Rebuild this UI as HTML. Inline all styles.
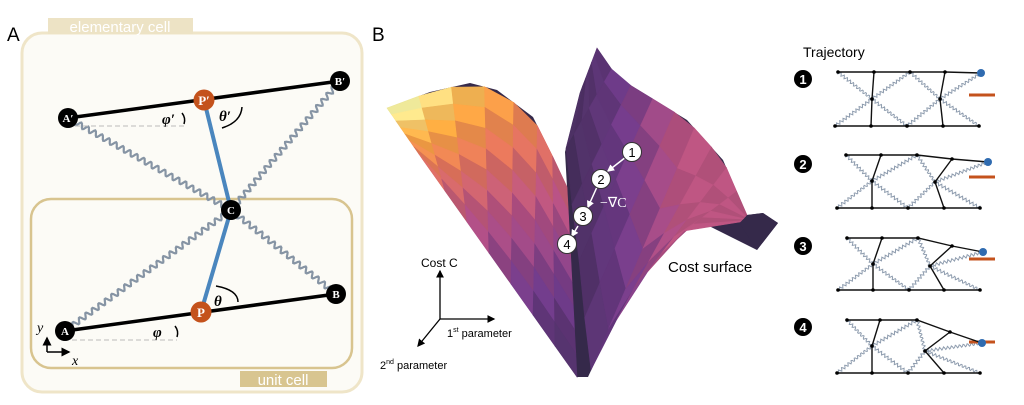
<!DOCTYPE html>
<html><head><meta charset="utf-8"><style>
html,body{margin:0;padding:0;background:#fff;width:1024px;height:405px;overflow:hidden}
svg{display:block}
text{font-family:"Liberation Sans",sans-serif}
.serif{font-family:"Liberation Serif",serif;font-style:italic;font-weight:bold}
</style></head><body>
<svg id="s" width="1024" height="405" viewBox="0 0 1024 405" xmlns="http://www.w3.org/2000/svg">
<defs>
<marker id="ar" markerWidth="6" markerHeight="6" refX="5" refY="3" orient="auto"><path d="M0,0L6,3L0,6z" fill="#000"/></marker>
<marker id="aw" markerWidth="5" markerHeight="5" refX="4" refY="2.5" orient="auto"><path d="M0,0L5,2.5L0,5z" fill="#fff"/></marker>
</defs>
<!-- Panel A -->
<text x="7" y="41" font-size="19">A</text>
<rect x="22" y="33" width="340" height="359" rx="20" fill="#fcfbf6" stroke="#efe5c8" stroke-width="3"/>
<rect x="48" y="18" width="145" height="16" fill="#ede3c5"/>
<text x="120" y="32" font-size="15" fill="#fff" text-anchor="middle">elementary cell</text>
<rect x="31" y="199" width="321" height="169" rx="20" fill="none" stroke="#d8c48f" stroke-width="2.5"/>
<rect x="240" y="371" width="87" height="16" fill="#d8c590"/>
<text x="283" y="385" font-size="15" fill="#fff" text-anchor="middle">unit cell</text>
<g id="springsA" fill="none" stroke="#8694a4" stroke-width="2.2"></g>
<line x1="75" y1="126" x2="185" y2="126" stroke="#bbb" stroke-dasharray="5,3"/>
<line x1="72" y1="340" x2="177" y2="340" stroke="#bbb" stroke-dasharray="5,3"/>
<line x1="68" y1="118" x2="340" y2="81" stroke="#000" stroke-width="3.5"/>
<line x1="65" y1="331" x2="336" y2="294" stroke="#000" stroke-width="3.5"/>
<polyline points="204,100 231,210 201,312" fill="none" stroke="#4a86be" stroke-width="4"/>
<path d="M182,113 Q186,118 184,124" fill="none" stroke="#000" stroke-width="1.5"/>
<path d="M242,107 Q241,122 222,128" fill="none" stroke="#000" stroke-width="1.5"/>
<path d="M216,286 Q238,290 238,302" fill="none" stroke="#000" stroke-width="1.5"/>
<path d="M175,326 Q179,331 177,337" fill="none" stroke="#000" stroke-width="1.5"/>
<text class="serif" x="162" y="124" font-size="15">φ′</text>
<text class="serif" x="219" y="121" font-size="15">θ′</text>
<text class="serif" x="214" y="306" font-size="15">θ</text>
<text class="serif" x="153" y="337" font-size="15">φ</text>
<g font-weight="bold" font-size="11" fill="#fff" text-anchor="middle">
<circle cx="68" cy="118" r="10" fill="#000"/><text x="68" y="122" style="font-family:'Liberation Serif',serif">A′</text>
<circle cx="340" cy="81" r="10" fill="#000"/><text x="340" y="85" style="font-family:'Liberation Serif',serif">B′</text>
<circle cx="204" cy="100" r="10.5" fill="#c4521c"/><text x="204" y="105" style="font-family:'Liberation Serif',serif" font-size="13">P′</text>
<circle cx="231" cy="210" r="10" fill="#000"/><text x="231" y="214" style="font-family:'Liberation Serif',serif">C</text>
<circle cx="336" cy="294" r="10" fill="#000"/><text x="336" y="298" style="font-family:'Liberation Serif',serif">B</text>
<circle cx="201" cy="312" r="10.5" fill="#c4521c"/><text x="201" y="317" style="font-family:'Liberation Serif',serif" font-size="13">P</text>
<circle cx="65" cy="331" r="10" fill="#000"/><text x="65" y="335" style="font-family:'Liberation Serif',serif">A</text>
</g>
<line x1="47" y1="352" x2="47" y2="338" stroke="#000" stroke-width="1.5" marker-end="url(#ar)"/>
<line x1="47" y1="352" x2="69" y2="352" stroke="#000" stroke-width="1.5" marker-end="url(#ar)"/>
<text x="37" y="332" font-size="14" font-style="italic" style="font-family:'Liberation Serif',serif">y</text>
<text x="72" y="365" font-size="14" font-style="italic" style="font-family:'Liberation Serif',serif">x</text>
<!-- Panel B -->
<text x="372" y="41" font-size="19">B</text>
<polygon points="387,108 430,92 470,83 497,90 533,117 552,155 567,187 565,152 580,93 597,48 617,77 687,120 723,160 747,215 763,213 778,223 757,250 703,223 670,237 610,330 588,377 577,377 423,160" fill="#35294a"/>
<g id="surf"></g>
<polygon points="747,215 763,213 778,223 757,250 740,224" fill="#35294a"/>
<g stroke="#fff" stroke-width="1.5" fill="none">
<line x1="626" y1="157" x2="608" y2="171" marker-end="url(#aw)"/>
<line x1="597" y1="187" x2="588" y2="207" marker-end="url(#aw)"/>
<line x1="578" y1="226" x2="572" y2="236" marker-end="url(#aw)"/>
</g>
<g font-size="13" text-anchor="middle">
<circle cx="632" cy="152" r="9.5" fill="#fff" stroke="#333"/><text x="632" y="157">1</text>
<circle cx="601" cy="179" r="9.5" fill="#fff" stroke="#333"/><text x="601" y="184">2</text>
<circle cx="583" cy="216" r="9.5" fill="#fff" stroke="#333"/><text x="583" y="221">3</text>
<circle cx="567" cy="244" r="9.5" fill="#fff" stroke="#333"/><text x="567" y="249">4</text>
</g>
<text x="600" y="207" font-size="14" fill="#fff" style="font-family:'Liberation Serif',serif">−∇C</text>
<text x="668" y="272" font-size="15">Cost surface</text>
<line x1="440" y1="319" x2="440" y2="271" stroke="#000" stroke-width="1.3" marker-end="url(#ar)"/>
<line x1="440" y1="319" x2="494" y2="319" stroke="#000" stroke-width="1.3" marker-end="url(#ar)"/>
<line x1="440" y1="319" x2="418" y2="346" stroke="#000" stroke-width="1.3" marker-end="url(#ar)"/>
<text x="421" y="267" font-size="12">Cost C</text>
<text x="447" y="337" font-size="11">1<tspan font-size="7" dy="-5">st</tspan><tspan dy="5"> parameter</tspan></text>
<text x="380" y="369" font-size="11">2<tspan font-size="7" dy="-5">nd</tspan><tspan dy="5"> parameter</tspan></text>
<!-- Trajectory -->
<text x="803" y="57" font-size="14">Trajectory</text>
<g id="traj"></g>
</svg>
<script>
const NS="http://www.w3.org/2000/svg";
function wave(x1,y1,x2,y2,amp,wl){const dx=x2-x1,dy=y2-y1,L=Math.hypot(dx,dy),ux=dx/L,uy=dy/L,nx=-uy,ny=ux;let d="";const n=Math.ceil(L/1);for(let i=0;i<=n;i++){const t=i/n*L,o=amp*Math.sin(2*Math.PI*t/wl);d+=(i?"L":"M")+(x1+ux*t+nx*o).toFixed(1)+","+(y1+uy*t+ny*o).toFixed(1);}return d;}
function el(tag,attrs,parent){const e=document.createElementNS(NS,tag);for(const k in attrs)e.setAttribute(k,attrs[k]);parent.appendChild(e);return e;}
const sA=document.getElementById("springsA");
[[68,118,231,210],[340,81,231,210],[231,210,65,331],[231,210,336,294]].forEach(s=>el("path",{d:wave(...s,2.6,8)},sA));
const stops=[[0,[249,243,160]],[0.18,[248,168,64]],[0.34,[226,116,90]],[0.52,[178,79,130]],[0.72,[110,58,136]],[1,[53,41,74]]];
function cmap(t,k){t=Math.max(0,Math.min(1,t));let i=0;while(i<stops.length-2&&t>stops[i+1][0])i++;const a=stops[i],b=stops[i+1],f=(t-a[0])/(b[0]-a[0]);return "rgb("+a[1].map((v,j)=>Math.round(Math.min(255,(v+(b[1][j]-v)*f)*k))).join(",")+")";}
function resample(pts,n){const seg=[];let tot=0;for(let i=1;i<pts.length;i++){const l=Math.hypot(pts[i][0]-pts[i-1][0],pts[i][1]-pts[i-1][1]);seg.push(l);tot+=l;}const out=[];for(let k=0;k<=n;k++){let d=tot*k/n,i=0;while(i<seg.length-1&&d>seg[i]){d-=seg[i];i++;}const f=seg[i]?Math.min(1,d/seg[i]):0;out.push([pts[i][0]+(pts[i+1][0]-pts[i][0])*f,pts[i][1]+(pts[i+1][1]-pts[i][1])*f]);}return out;}
const sg=document.getElementById("surf");
function patch(top,bot,nc,nr,colf){const T=resample(top,nc),B=resample(bot,nc);
 const P=(i,j)=>[T[i][0]+(B[i][0]-T[i][0])*j/nr,T[i][1]+(B[i][1]-T[i][1])*j/nr];
 for(let i=0;i<nc;i++)for(let j=0;j<nr;j++){const a=P(i,j),b=P(i+1,j),c=P(i+1,j+1),d=P(i,j+1);const cx=(a[0]+b[0]+c[0]+d[0])/4,cy=(a[1]+b[1]+c[1]+d[1])/4;const k=((i+j)%2)?1.04:0.96;const col=colf(cx,cy,i,j,k,nc,nr);
 el("polygon",{points:[a,b,c,d].map(p=>p[0].toFixed(1)+","+p[1].toFixed(1)).join(" "),fill:col,stroke:col,"stroke-width":0.6},sg);}}
patch([[387,108],[430,92],[470,83],[497,90],[533,117],[552,155],[567,187]],[[423,160],[577,377]],7,8,(x,y,i,j,k,nc,nr)=>cmap((i+0.5)/nc*0.55+(j+0.5)/nr*0.45-0.08,k));
patch([[597,48],[617,77],[687,120],[723,160],[747,215]],[[580,93],[565,152],[578,250],[590,372],[610,330],[670,237],[703,223],[740,222]],9,6,(x,y,i,j,k)=>cmap(0.5+0.42*Math.max(0,Math.min(1,(680-x)/110)),k));
const P=[
{n:1,y:79,top:[[838,72],[874,72],[910,72],[945,72],[981,73]],mid:[[872,99],[940,99]],bot:[[835,126],[871,126],[907,126],[943,126],[979,126]],o:95},
{n:2,y:164,top:[[846,155],[881,155],[917,155],[952,159],[988,162]],mid:[[872,181],[935,182]],bot:[[837,208],[872,208],[908,208],[944,208],[980,208]],o:177},
{n:3,y:246,top:[[847,238],[882,238],[918,238],[952,246],[983,252]],mid:[[873,264],[930,266]],bot:[[838,290],[873,290],[909,290],[944,290],[980,290]],o:259},
{n:4,y:327,top:[[847,320],[880,320],[917,320],[950,332],[982,343]],mid:[[872,346],[925,351]],bot:[[837,373],[872,373],[908,373],[944,373],[980,373]],o:342}];
const tg=document.getElementById("traj");
P.forEach(p=>{
 const T=p.top,M=p.mid,B=p.bot;
 const sp=[[T[0],M[0]],[M[0],B[2]],[B[0],M[0]],[M[0],T[2]],[T[2],M[1]],[M[1],B[4]],[B[2],M[1]],[M[1],T[4]]];
 sp.forEach(s=>el("path",{d:wave(s[0][0],s[0][1],s[1][0],s[1][1],1.5,4),fill:"none",stroke:"#8e9cae","stroke-width":1},tg));
 el("line",{x1:969,y1:p.o,x2:995,y2:p.o,stroke:"#c4521c","stroke-width":3},tg);
 el("polyline",{points:T.map(a=>a.join(",")).join(" "),fill:"none",stroke:"#111","stroke-width":1.4},tg);
 el("polyline",{points:B.map(a=>a.join(",")).join(" "),fill:"none",stroke:"#111","stroke-width":1.4},tg);
 el("polyline",{points:[T[1],M[0],B[1]].map(a=>a.join(",")).join(" "),fill:"none",stroke:"#111","stroke-width":1.4},tg);
 el("polyline",{points:[T[3],M[1],B[3]].map(a=>a.join(",")).join(" "),fill:"none",stroke:"#111","stroke-width":1.4},tg);
 [...T.slice(0,4),...M,...B].forEach(a=>el("circle",{cx:a[0],cy:a[1],r:1.8,fill:"#000"},tg));
 el("circle",{cx:T[4][0],cy:T[4][1],r:4,fill:"#2f6bb0"},tg);
 el("circle",{cx:803,cy:p.y,r:9,fill:"#000"},tg);
 const t=el("text",{x:803,y:p.y+5,"font-size":13,"font-weight":"bold",fill:"#fff","text-anchor":"middle"},tg);t.textContent=p.n;
});
</script>
</body></html>
